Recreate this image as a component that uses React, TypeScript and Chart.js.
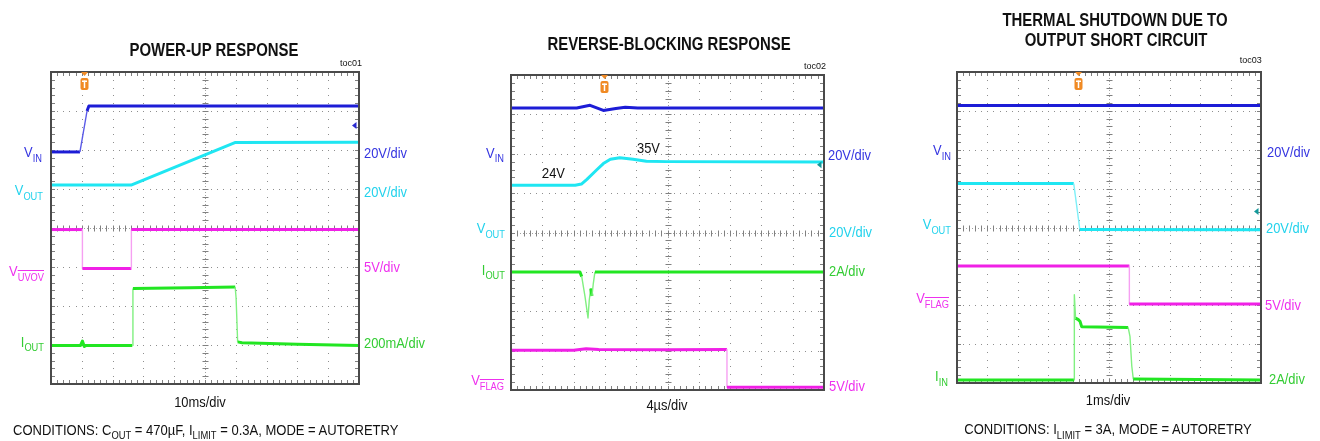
import React, { useEffect, useRef } from 'react';
import { Chart, registerables } from 'chart.js';

Chart.register(...registerables);

const FONT = '"Liberation Sans", Arial, Helvetica, sans-serif';
const W = 1320;
const H = 441;

// ---------- Panel 1: POWER-UP RESPONSE (time in ms, 10 ms/div; levels in screen divisions) ----------
const p1VinT = [0, 9.4, 11.7, 12.3, 100];
const p1VinV = [5.95, 5.95, 7.0, 7.13, 7.13];
const p1VoutT = [0, 26, 59.7, 100];
const p1VoutV = [5.1, 5.1, 6.19, 6.2];
const p1UvovT = [0, 10.2, 10.2, 26.1, 26.1, 100];
const p1UvovV = [3.96, 3.96, 2.96, 2.96, 3.96, 3.96];
const p1IoutT = [0, 9.6, 10.2, 10.8, 11.4, 26.4, 26.6, 45, 59.8, 60.1, 60.6, 62, 80, 100];
const p1IoutV = [0.99, 0.99, 1.1, 0.96, 0.99, 0.99, 2.45, 2.47, 2.49, 2.2, 1.08, 1.06, 1.02, 0.99];
const p1Trigger = 10.7;
const p1Ground = 6.63;

// ---------- Panel 2: REVERSE-BLOCKING RESPONSE (time in µs, 4 µs/div) ----------
const p2VinT = [0, 8.4, 10.1, 11.8, 13.4, 14.6, 16.2, 40];
const p2VinV = [7.16, 7.16, 7.23, 7.1, 7.15, 7.18, 7.16, 7.16];
const p2VoutT = [0, 8.2, 9.0, 9.7, 10.9, 11.8, 12.7, 13.9, 15.6, 17.3, 19.9, 40];
const p2VoutV = [5.2, 5.2, 5.23, 5.35, 5.58, 5.75, 5.86, 5.9, 5.86, 5.81, 5.8, 5.79];
const p2IoutT = [0, 8.8, 9.04, 9.46, 9.84, 10.0, 10.19, 10.35, 10.52, 10.73, 40];
const p2IoutV = [3.0, 3.0, 2.88, 2.37, 1.83, 2.28, 2.58, 2.39, 2.71, 3.0, 3.0];
const p2FlagT = [0, 8, 9.6, 11.2, 20, 27.6, 27.6, 40];
const p2FlagV = [1.01, 1.01, 1.05, 1.03, 1.02, 1.03, 0.07, 0.07];
const p2Trigger = 11.9;
const p2Ground = 5.72;

// ---------- Panel 3: THERMAL SHUTDOWN (time in ms, 1 ms/div) ----------
const p3VinT = [0, 10];
const p3VinV = [7.14, 7.14];
const p3VoutT = [0, 3.84, 4.04, 10];
const p3VoutV = [5.13, 5.13, 3.95, 3.94];
const p3FlagT = [0, 5.67, 5.67, 10];
const p3FlagV = [3.01, 3.01, 2.03, 2.03];
const p3IinT = [0, 3.85, 3.86, 3.9, 3.99, 4.05, 4.1, 5.63, 5.69, 5.75, 5.8, 10];
const p3IinV = [0.08, 0.08, 2.27, 1.67, 1.63, 1.58, 1.45, 1.43, 1.2, 0.43, 0.1, 0.08];
const p3Trigger = 3.99;
const p3Ground = 4.41;

const C = {
  blue: '#1c1cd6', blueEdge: '#5a5ae8',
  cyan: '#1fe6f2', cyanEdge: '#7ff0f8',
  mag: '#f020e6', magEdge: '#f6a0f2',
  green: '#22e622', greenEdge: '#80f080',
  blueTxt: '#3535e0', cyanTxt: '#22d2ec', magTxt: '#ee30ee', greenTxt: '#33cc33',
  ground1: '#2a2ad0', ground2: '#14999a',
};

type Trace = { t: number[]; v: number[]; color: string; edge: string };
type Panel = {
  box: { l: number; r: number; t: number; b: number };
  xMax: number;
  traces: Trace[];
  trigger: number;
  ground: number;
  groundColor: string;
};

const panels: Panel[] = [
  {
    box: { l: 51, r: 359, t: 72, b: 384 },
    xMax: 100,
    traces: [
      { t: p1VoutT, v: p1VoutV, color: C.cyan, edge: C.cyanEdge },
      { t: p1UvovT, v: p1UvovV, color: C.mag, edge: C.magEdge },
      { t: p1IoutT, v: p1IoutV, color: C.green, edge: C.greenEdge },
      { t: p1VinT, v: p1VinV, color: C.blue, edge: C.blueEdge },
    ],
    trigger: p1Trigger,
    ground: p1Ground,
    groundColor: C.ground1,
  },
  {
    box: { l: 511, r: 824, t: 75, b: 390 },
    xMax: 40,
    traces: [
      { t: p2VoutT, v: p2VoutV, color: C.cyan, edge: C.cyanEdge },
      { t: p2IoutT, v: p2IoutV, color: C.green, edge: C.greenEdge },
      { t: p2FlagT, v: p2FlagV, color: C.mag, edge: C.magEdge },
      { t: p2VinT, v: p2VinV, color: C.blue, edge: C.blueEdge },
    ],
    trigger: p2Trigger,
    ground: p2Ground,
    groundColor: C.ground2,
  },
  {
    box: { l: 957, r: 1261, t: 72, b: 383 },
    xMax: 10,
    traces: [
      { t: p3VoutT, v: p3VoutV, color: C.cyan, edge: C.cyanEdge },
      { t: p3FlagT, v: p3FlagV, color: C.mag, edge: C.magEdge },
      { t: p3IinT, v: p3IinV, color: C.green, edge: C.greenEdge },
      { t: p3VinT, v: p3VinV, color: C.blue, edge: C.blueEdge },
    ],
    trigger: p3Trigger,
    ground: p3Ground,
    groundColor: C.ground2,
  },
];

const graticule = {
  id: 'graticule',
  beforeDatasetsDraw(chart: any) {
    const { ctx, chartArea: a } = chart;
    const xs = chart.scales.x;
    const ys = chart.scales.y;
    const xd = xs.max / 10;
    const yd = ys.max / 8;
    ctx.save();
    ctx.fillStyle = '#8f8f8f';
    for (let i = 1; i < 10; i++) {
      if (i === 5) continue;
      const px = Math.round(xs.getPixelForValue(i * xd));
      for (let k = 1; k < 40; k++) {
        const py = Math.round(ys.getPixelForValue((k * yd) / 5));
        ctx.fillRect(px, py, 1, 1);
      }
    }
    for (let j = 1; j < 8; j++) {
      if (j === 4) continue;
      const py = Math.round(ys.getPixelForValue(j * yd));
      for (let k = 1; k < 50; k++) {
        const px = Math.round(xs.getPixelForValue((k * xd) / 5));
        ctx.fillRect(px, py, 1, 1);
      }
    }
    const cx = Math.round(xs.getPixelForValue(5 * xd)) + 0.5;
    const cy = Math.round(ys.getPixelForValue(4 * yd)) + 0.5;
    ctx.strokeStyle = '#a0a0a0';
    ctx.lineWidth = 1;
    ctx.setLineDash([1, 2]);
    ctx.beginPath();
    ctx.moveTo(cx, a.top);
    ctx.lineTo(cx, a.bottom);
    ctx.moveTo(a.left, cy);
    ctx.lineTo(a.right, cy);
    ctx.stroke();
    ctx.setLineDash([]);
    ctx.strokeStyle = '#808080';
    ctx.beginPath();
    for (let k = 1; k < 40; k++) {
      const py = Math.round(ys.getPixelForValue((k * yd) / 5)) + 0.5;
      ctx.moveTo(cx - 3, py);
      ctx.lineTo(cx + 3, py);
      ctx.moveTo(a.left, py);
      ctx.lineTo(a.left + 4, py);
      ctx.moveTo(a.right - 4, py);
      ctx.lineTo(a.right, py);
    }
    for (let k = 1; k < 50; k++) {
      const px = Math.round(xs.getPixelForValue((k * xd) / 5)) + 0.5;
      ctx.moveTo(px, cy - 3);
      ctx.lineTo(px, cy + 3);
      ctx.moveTo(px, a.top);
      ctx.lineTo(px, a.top + 4);
      ctx.moveTo(px, a.bottom - 4);
      ctx.lineTo(px, a.bottom);
    }
    ctx.stroke();
    ctx.restore();
  },
};

const marks = {
  id: 'marks',
  afterDatasetsDraw(chart: any, _args: any, opts: any) {
    const { ctx, chartArea: a } = chart;
    const xs = chart.scales.x;
    const ys = chart.scales.y;
    ctx.save();
    ctx.strokeStyle = '#4a4a4a';
    ctx.lineWidth = 2;
    ctx.strokeRect(a.left, a.top, a.right - a.left, a.bottom - a.top);
    // trigger marker
    const tx = Math.round(xs.getPixelForValue(opts.trigger)) + 0.5;
    ctx.fillStyle = '#f08a24';
    ctx.beginPath();
    ctx.moveTo(tx - 3.5, a.top);
    ctx.lineTo(tx + 3.5, a.top);
    ctx.lineTo(tx, a.top + 4);
    ctx.closePath();
    ctx.fill();
    ctx.beginPath();
    ctx.roundRect(tx - 4, a.top + 6, 8, 12, 2);
    ctx.fill();
    ctx.fillStyle = '#ffffff';
    ctx.fillRect(tx - 2.5, a.top + 8.5, 5, 1.5);
    ctx.fillRect(tx - 0.75, a.top + 8.5, 1.5, 7.5);
    // ground reference marker
    const gy = ys.getPixelForValue(opts.ground);
    ctx.fillStyle = opts.color;
    ctx.beginPath();
    ctx.moveTo(a.right - 7, gy);
    ctx.lineTo(a.right - 2.5, gy - 3.5);
    ctx.lineTo(a.right - 2.5, gy + 3.5);
    ctx.closePath();
    ctx.fill();
    ctx.restore();
  },
};

function isSteep(ctx: any) {
  const dy = Math.abs(ctx.p1.y - ctx.p0.y);
  const dx = Math.abs(ctx.p1.x - ctx.p0.x);
  return dy > 8 && dy > 2 * dx;
}

function ScopeChart({ panel }: { panel: Panel }) {
  const ref = useRef<HTMLCanvasElement>(null);
  useEffect(() => {
    if (!ref.current) return;
    const { box } = panel;
    const chart = new Chart(ref.current, {
      type: 'line',
      data: {
        datasets: panel.traces.map((tr) => ({
          data: tr.t.map((t, i) => ({ x: t, y: tr.v[i] })),
          borderColor: tr.color,
          borderWidth: 3,
          pointRadius: 0,
          fill: false,
          tension: 0,
          borderJoinStyle: 'round',
          segment: {
            borderWidth: (c: any) => (isSteep(c) ? 1.4 : 3),
            borderColor: (c: any) => (isSteep(c) ? tr.edge : tr.color),
          },
        })),
      },
      options: {
        animation: false,
        responsive: false,
        maintainAspectRatio: false,
        events: [],
        layout: { padding: { left: box.l, right: W - box.r, top: box.t, bottom: H - box.b } },
        plugins: {
          legend: { display: false },
          tooltip: { enabled: false },
          title: { display: false },
          marks: { trigger: panel.trigger, ground: panel.ground, color: panel.groundColor },
        } as any,
        scales: {
          x: { type: 'linear', min: 0, max: panel.xMax, display: false },
          y: { type: 'linear', min: 0, max: 8, display: false },
        },
      },
      plugins: [graticule, marks],
    } as any);
    return () => chart.destroy();
  }, [panel]);
  return (
    <canvas
      ref={ref}
      width={W}
      height={H}
      style={{ position: 'absolute', left: 0, top: 0, width: W, height: H }}
    />
  );
}

type TxtProps = {
  x: number;
  y: number;
  align?: 'left' | 'right' | 'center';
  color?: string;
  size?: number;
  bold?: boolean;
  sx?: number;
  children: React.ReactNode;
};

function Txt({ x, y, align = 'left', color = '#111', size = 15, bold = false, sx = 0.86, children }: TxtProps) {
  const tf =
    align === 'right'
      ? `translateX(-100%) scaleX(${sx})`
      : align === 'center'
      ? `translateX(-50%) scaleX(${sx})`
      : `scaleX(${sx})`;
  const origin = align === 'right' ? '100% 0' : align === 'center' ? '50% 0' : '0 0';
  return (
    <div
      style={{
        position: 'absolute',
        left: x,
        top: y - 0.8465 * size,
        fontSize: size,
        lineHeight: `${size}px`,
        fontFamily: FONT,
        fontWeight: bold ? 'bold' : 'normal',
        color,
        whiteSpace: 'nowrap',
        transform: tf,
        transformOrigin: origin,
      }}
    >
      {children}
    </div>
  );
}

const Sub = ({ children, over = false }: { children: React.ReactNode; over?: boolean }) => (
  <span
    style={{
      fontSize: '0.72em',
      position: 'relative',
      top: '0.42em',
      textDecoration: over ? 'overline' : 'none',
    }}
  >
    {children}
  </span>
);

export default function App() {
  return (
    <div style={{ position: 'absolute', left: 0, top: 0, width: W, height: H, background: '#fff', overflow: 'hidden' }}>
      {panels.map((p, i) => (
        <ScopeChart key={i} panel={p} />
      ))}

      {/* Panel 1 */}
      <Txt x={214} y={56.7} align="center" size={18} bold sx={0.83}>POWER-UP RESPONSE</Txt>
      <Txt x={362} y={67} align="right" size={9} sx={1}>toc01</Txt>
      <Txt x={42} y={157} align="right" color={C.blueTxt}>V<Sub>IN</Sub></Txt>
      <Txt x={43} y={195} align="right" color={C.cyanTxt}>V<Sub>OUT</Sub></Txt>
      <Txt x={43.5} y={276} align="right" color={C.magTxt}>V<Sub over>UVOV</Sub></Txt>
      <Txt x={44} y={346.5} align="right" color={C.greenTxt}>I<Sub>OUT</Sub></Txt>
      <Txt x={364} y={157.5} color={C.blueTxt}>20V/div</Txt>
      <Txt x={363.5} y={196.5} color={C.cyanTxt}>20V/div</Txt>
      <Txt x={363.5} y={272} color={C.magTxt}>5V/div</Txt>
      <Txt x={363.5} y={348} color={C.greenTxt}>200mA/div</Txt>
      <Txt x={200} y={406.7} align="center">10ms/div</Txt>
      <Txt x={12.7} y={434.3} sx={0.868}>
        CONDITIONS: C<Sub>OUT</Sub> = 470µF, I<Sub>LIMIT</Sub> = 0.3A, MODE = AUTORETRY
      </Txt>

      {/* Panel 2 */}
      <Txt x={669} y={50.7} align="center" size={18} bold sx={0.83}>REVERSE-BLOCKING RESPONSE</Txt>
      <Txt x={826} y={70} align="right" size={9} sx={1}>toc02</Txt>
      <Txt x={504} y={157.3} align="right" color={C.blueTxt}>V<Sub>IN</Sub></Txt>
      <Txt x={541.7} y={177.5}>24V</Txt>
      <Txt x={636.7} y={152.7}>35V</Txt>
      <Txt x={828.3} y={160} color={C.blueTxt}>20V/div</Txt>
      <Txt x={505.3} y={233} align="right" color={C.cyanTxt}>V<Sub>OUT</Sub></Txt>
      <Txt x={829} y={236.5} color={C.cyanTxt}>20V/div</Txt>
      <Txt x={505} y={274.5} align="right" color={C.greenTxt}>I<Sub>OUT</Sub></Txt>
      <Txt x={829} y={276} color={C.greenTxt}>2A/div</Txt>
      <Txt x={504} y={385} align="right" color={C.magTxt}>V<Sub over>FLAG</Sub></Txt>
      <Txt x={829} y={391} color={C.magTxt}>5V/div</Txt>
      <Txt x={667} y={410} align="center">4µs/div</Txt>

      {/* Panel 3 */}
      <Txt x={1115} y={26} align="center" size={18} bold sx={0.83}>THERMAL SHUTDOWN DUE TO</Txt>
      <Txt x={1115.5} y={46} align="center" size={18} bold sx={0.83}>OUTPUT SHORT CIRCUIT</Txt>
      <Txt x={1261.7} y={63.3} align="right" size={9} sx={1}>toc03</Txt>
      <Txt x={950.7} y={155} align="right" color={C.blueTxt}>V<Sub>IN</Sub></Txt>
      <Txt x={1266.7} y={156.7} color={C.blueTxt}>20V/div</Txt>
      <Txt x={951} y={229} align="right" color={C.cyanTxt}>V<Sub>OUT</Sub></Txt>
      <Txt x={1266} y={232.7} color={C.cyanTxt}>20V/div</Txt>
      <Txt x={949.3} y={302.7} align="right" color={C.magTxt}>V<Sub over>FLAG</Sub></Txt>
      <Txt x={1265} y={309.3} color={C.magTxt}>5V/div</Txt>
      <Txt x={947.7} y={381} align="right" color={C.greenTxt}>I<Sub>IN</Sub></Txt>
      <Txt x={1269.3} y={383.3} color={C.greenTxt}>2A/div</Txt>
      <Txt x={1107.7} y={405} align="center">1ms/div</Txt>
      <Txt x={1108} y={434} align="center" sx={0.868}>
        CONDITIONS: I<Sub>LIMIT</Sub> = 3A, MODE = AUTORETRY
      </Txt>
    </div>
  );
}
